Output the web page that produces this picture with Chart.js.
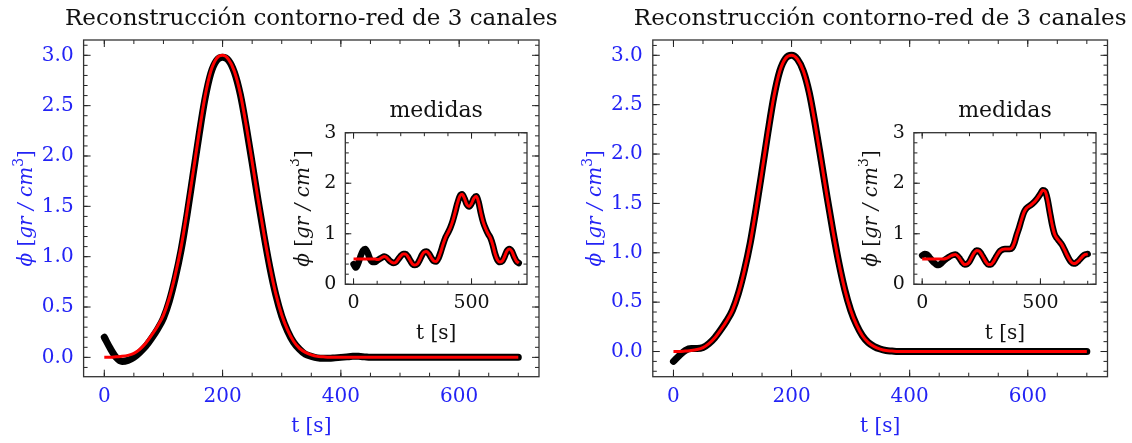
<!DOCTYPE html>
<html>
<head>
<meta charset="utf-8">
<script src="https://cdn.jsdelivr.net/npm/chart.js@4"></script>
<style>
  html, body { margin: 0; padding: 0; background: #fff; }
  #lienzo { position: relative; width: 1132px; height: 443px; }
  canvas { position: absolute; }
</style>
</head>
<body>
<div id="lienzo">
  <canvas id="principalA" width="560" height="443" style="left:0;top:0"></canvas>
  <canvas id="principalB" width="572" height="443" style="left:560px;top:0"></canvas>
  <canvas id="medidasA" width="250" height="255" style="left:290px;top:95px"></canvas>
  <canvas id="medidasB" width="250" height="255" style="left:858px;top:95px"></canvas>
</div>
<script>
// tiempo [s], comun a todas las curvas
const tiempo = [
  0, 10, 20, 30, 40, 50, 60, 70, 80, 90,
  100, 110, 120, 130, 140, 150, 160, 170, 180, 190,
  200, 210, 220, 230, 240, 250, 260, 270, 280, 290,
  300, 310, 320, 330, 340, 350, 360, 370, 380, 390,
  400, 410, 420, 430, 440, 450, 460, 470, 480, 490,
  500, 510, 520, 530, 540, 550, 560, 570, 580, 590,
  600, 610, 620, 630, 640, 650, 660, 670, 680, 690,
  700
];

// perfil real (rojo), igual en los dos paneles
const phiReal = [
  0, 0, 0.005, 0.01, 0.02, 0.04, 0.08, 0.14,
  0.22, 0.31, 0.42, 0.59, 0.82, 1.10, 1.45, 1.83,
  2.22, 2.58, 2.84, 2.97, 3.00, 2.96, 2.84, 2.62,
  2.30, 1.94, 1.57, 1.22, 0.90, 0.63, 0.42, 0.27,
  0.16, 0.09, 0.05, 0.025, 0.01, 0.005, 0, 0,
  0, 0, 0, 0, 0, 0, 0, 0, 0, 0,
  0, 0, 0, 0, 0, 0, 0, 0, 0, 0,
  0, 0, 0, 0, 0, 0, 0, 0, 0, 0,
  0
];

// reconstruccion (negro), panel izquierdo
const phiRecA = [
  0.20, 0.09, 0.00, -0.04, -0.03, 0.00, 0.05, 0.11,
  0.19, 0.28, 0.39, 0.56, 0.79, 1.07, 1.42, 1.81,
  2.20, 2.56, 2.82, 2.95, 2.98, 2.95, 2.83, 2.61,
  2.29, 1.93, 1.56, 1.21, 0.89, 0.62, 0.41, 0.26,
  0.15, 0.08, 0.03, 0.01, -0.005, -0.01, -0.01, -0.005,
  0, 0.005, 0.01, 0.01, 0.005, 0, 0, 0, 0, 0,
  0, 0, 0, 0, 0, 0, 0, 0, 0, 0,
  0, 0, 0, 0, 0, 0, 0, 0, 0, 0,
  0
];

// reconstruccion (negro), panel derecho
const phiRecB = [
  -0.10, -0.04, 0.01, 0.03, 0.03, 0.04, 0.08, 0.14,
  0.22, 0.31, 0.42, 0.59, 0.82, 1.10, 1.45, 1.83,
  2.22, 2.58, 2.84, 2.97, 3.00, 2.96, 2.84, 2.62,
  2.30, 1.94, 1.57, 1.22, 0.90, 0.63, 0.42, 0.27,
  0.16, 0.09, 0.05, 0.025, 0.01, 0.005, 0, 0,
  0, 0, 0, 0, 0, 0, 0, 0, 0, 0,
  0, 0, 0, 0, 0, 0, 0, 0, 0, 0,
  0, 0, 0, 0, 0, 0, 0, 0, 0, 0,
  0
];

// medidas, recuadro izquierdo
const medidaRealA = [
  0.50, 0.50, 0.50, 0.50, 0.50, 0.50, 0.50, 0.50, 0.50, 0.50,
  0.49, 0.50, 0.53, 0.55, 0.53, 0.48, 0.44, 0.42,
  0.44, 0.50, 0.56, 0.60, 0.60, 0.55, 0.47, 0.40,
  0.38, 0.40, 0.48, 0.58, 0.64, 0.65, 0.60, 0.52,
  0.46, 0.45, 0.52, 0.65, 0.80, 0.93, 1.02, 1.12,
  1.25, 1.42, 1.60, 1.74, 1.78, 1.70, 1.58, 1.54,
  1.60, 1.70, 1.74, 1.62, 1.40, 1.22, 1.10, 1.00,
  0.92, 0.78, 0.60, 0.48, 0.44, 0.46, 0.55, 0.66,
  0.70, 0.66, 0.55, 0.46, 0.42
];
const medidaRecA = [
  0.40, 0.33, 0.42, 0.56, 0.67, 0.70, 0.62, 0.50, 0.44, 0.44,
  0.47, 0.50, 0.53, 0.55, 0.53, 0.48, 0.44, 0.42,
  0.44, 0.50, 0.56, 0.60, 0.60, 0.55, 0.47, 0.40,
  0.38, 0.40, 0.48, 0.58, 0.64, 0.65, 0.60, 0.52,
  0.46, 0.45, 0.52, 0.65, 0.80, 0.93, 1.02, 1.12,
  1.25, 1.42, 1.60, 1.74, 1.78, 1.70, 1.58, 1.54,
  1.60, 1.70, 1.74, 1.62, 1.40, 1.22, 1.10, 1.00,
  0.92, 0.78, 0.60, 0.48, 0.44, 0.46, 0.55, 0.66,
  0.70, 0.66, 0.55, 0.46, 0.42
];

// medidas, recuadro derecho
const medidaRealB = [
  0.50, 0.50, 0.50, 0.50, 0.50, 0.50, 0.50, 0.50, 0.50, 0.50,
  0.51, 0.53, 0.56, 0.58, 0.59, 0.56, 0.50, 0.43,
  0.39, 0.40, 0.45, 0.54, 0.62, 0.67, 0.66, 0.60,
  0.52, 0.44, 0.39, 0.39, 0.44, 0.52, 0.60, 0.66,
  0.69, 0.70, 0.70, 0.70, 0.72, 0.82, 0.98, 1.12,
  1.28, 1.42, 1.50, 1.54, 1.57, 1.61, 1.66, 1.72,
  1.79, 1.86, 1.84, 1.68, 1.42, 1.17, 0.99, 0.91,
  0.85, 0.79, 0.70, 0.60, 0.51, 0.44, 0.41, 0.42,
  0.46, 0.51, 0.56, 0.59, 0.60
];
const medidaRecB = [
  0.57, 0.60, 0.59, 0.54, 0.48, 0.43, 0.39, 0.38, 0.41, 0.46,
  0.50, 0.53, 0.56, 0.58, 0.59, 0.56, 0.50, 0.43,
  0.39, 0.40, 0.45, 0.54, 0.62, 0.67, 0.66, 0.60,
  0.52, 0.44, 0.39, 0.39, 0.44, 0.52, 0.60, 0.66,
  0.69, 0.70, 0.70, 0.70, 0.72, 0.82, 0.98, 1.12,
  1.28, 1.42, 1.50, 1.54, 1.57, 1.61, 1.66, 1.72,
  1.79, 1.86, 1.84, 1.68, 1.42, 1.17, 0.99, 0.91,
  0.85, 0.79, 0.70, 0.60, 0.51, 0.44, 0.41, 0.42,
  0.46, 0.51, 0.56, 0.59, 0.60
];

// marcas de los ejes
const ticksPrincipalX = [0, 200, 400, 600];
const ticksPrincipalY = [0, 0.5, 1.0, 1.5, 2.0, 2.5, 3.0];
const ticksMedidasX = [0, 500];
const ticksMedidasY = [0, 1, 2, 3];

const titulo = 'Reconstrucción contorno-red de 3 canales';
const tituloMedidas = 'medidas';
const FUENTE = '"DejaVu Serif", serif';
const AZUL = '#2323f5';

const puntos = (ys) => tiempo.map((t, i) => ({x: t, y: ys[i]}));

function etiquetaPhi(ctx, cx, cy, tam, color) {
  const partes = [['ϕ', 'italic'], [' [', ''], ['gr / cm', 'italic'], ['3', 'sup'], [']', '']];
  const fuente = (p) => p === 'sup' ? `${Math.round(tam * 0.7)}px ${FUENTE}` : `${p} ${tam}px ${FUENTE}`;
  ctx.save();
  ctx.translate(cx, cy);
  ctx.rotate(-Math.PI / 2);
  let total = 0;
  partes.forEach(([t, p]) => { ctx.font = fuente(p); total += ctx.measureText(t).width; });
  let x = -total / 2;
  ctx.fillStyle = color;
  ctx.textAlign = 'left';
  ctx.textBaseline = 'middle';
  partes.forEach(([t, p]) => {
    ctx.font = fuente(p);
    ctx.fillText(t, x, p === 'sup' ? -tam * 0.38 : 0);
    x += ctx.measureText(t).width;
  });
  ctx.restore();
}

// marco, marcas hacia dentro en los cuatro lados y textos
const marco = {
  id: 'marco',
  afterDraw(chart, args, o) {
    const {ctx, chartArea: a, scales: {x, y}} = chart;
    ctx.save();
    ctx.strokeStyle = '#222';
    ctx.lineWidth = 1;
    ctx.beginPath();
    const marcasX = (v, largo) => {
      const px = x.getPixelForValue(v);
      ctx.moveTo(px, a.bottom); ctx.lineTo(px, a.bottom - largo);
      ctx.moveTo(px, a.top); ctx.lineTo(px, a.top + largo);
    };
    const marcasY = (v, largo) => {
      const py = y.getPixelForValue(v);
      ctx.moveTo(a.left, py); ctx.lineTo(a.left + largo, py);
      ctx.moveTo(a.right, py); ctx.lineTo(a.right - largo, py);
    };
    for (let k = Math.ceil(x.min / o.menorX); k * o.menorX <= x.max; k++) marcasX(k * o.menorX, o.corta);
    for (let k = Math.ceil(y.min / o.menorY - 1e-9); k * o.menorY <= y.max + 1e-9; k++) marcasY(k * o.menorY, o.corta);
    x.ticks.forEach(t => marcasX(t.value, o.larga));
    y.ticks.forEach(t => marcasY(t.value, o.larga));
    ctx.stroke();
    ctx.lineWidth = 1.3;
    ctx.strokeStyle = '#333';
    ctx.strokeRect(a.left, a.top, a.width, a.height);

    const cx = (a.left + a.right) / 2;
    ctx.textAlign = 'center';
    ctx.textBaseline = 'middle';
    ctx.font = `${o.tamTitulo}px ${FUENTE}`;
    ctx.fillStyle = '#111';
    ctx.fillText(o.titulo, cx, a.top + o.dyTitulo);
    ctx.fillStyle = o.color;
    ctx.font = `${o.tamEje}px ${FUENTE}`;
    ctx.fillText('t [s]', cx, a.bottom + o.dyEjeX);
    ctx.restore();
    etiquetaPhi(ctx, a.left + o.dxEjeY, (a.top + a.bottom) / 2, o.tamEje, o.color);
  }
};

function grafico(id, caja, rangos, ticksX, ticksY, negro, rojo, estilo) {
  return new Chart(document.getElementById(id), {
    type: 'line',
    data: {
      datasets: [
        {data: puntos(rojo), borderColor: '#ff0000', borderWidth: estilo.anchoRojo, order: 0},
        {data: puntos(negro), borderColor: '#000', borderWidth: estilo.anchoNegro, borderCapStyle: 'round', order: 1}
      ]
    },
    options: {
      responsive: false,
      animation: false,
      events: [],
      cubicInterpolationMode: 'monotone',
      elements: {point: {radius: 0}},
      layout: {padding: {left: 0, top: caja.t, right: caja.w - caja.r, bottom: 0}},
      plugins: {legend: {display: false}, tooltip: {enabled: false}, marco: estilo},
      scales: {
        x: {
          type: 'linear', min: rangos.x[0], max: rangos.x[1],
          grid: {display: false, drawTicks: false}, border: {display: false},
          afterBuildTicks: (s) => { s.ticks = ticksX.map(v => ({value: v})); },
          afterFit: (s) => { s.height = caja.h - caja.b; },
          ticks: {color: estilo.color, padding: estilo.padX, font: {family: FUENTE, size: estilo.tamTick}}
        },
        y: {
          type: 'linear', min: rangos.y[0], max: rangos.y[1],
          grid: {display: false, drawTicks: false}, border: {display: false},
          afterBuildTicks: (s) => { s.ticks = ticksY.map(v => ({value: v})); },
          afterFit: (s) => { s.width = caja.l; },
          ticks: {color: estilo.color, padding: estilo.padY, font: {family: FUENTE, size: estilo.tamTick},
                  callback: estilo.formato}
        }
      }
    },
    plugins: [marco]
  });
}

const estiloPrincipal = {
  titulo: titulo, tamTitulo: 23, dyTitulo: -21, tamEje: 20, dyEjeX: 50, dxEjeY: -57,
  color: AZUL, tamTick: 20, padX: 8, padY: 10, larga: 7, corta: 4, menorX: 50, menorY: 0.1,
  anchoNegro: 7, anchoRojo: 3, formato: (v) => v.toFixed(1)
};
const estiloMedidas = {
  titulo: tituloMedidas, tamTitulo: 22, dyTitulo: -21, tamEje: 20, dyEjeX: 49, dxEjeY: -42,
  color: '#111', tamTick: 19, padX: 7, padY: 9, larga: 6, corta: 3.5, menorX: 100, menorY: 0.2,
  anchoNegro: 6.5, anchoRojo: 3, formato: (v) => String(v)
};

grafico('principalA', {w: 560, h: 443, l: 83.6, t: 40, r: 539, b: 376.7},
  {x: [-35, 735], y: [-0.192, 3.152]}, ticksPrincipalX, ticksPrincipalY, phiRecA, phiReal, estiloPrincipal);
grafico('principalB', {w: 572, h: 443, l: 92.8, t: 40, r: 547.5, b: 376.7},
  {x: [-35, 735], y: [-0.255, 3.155]}, ticksPrincipalX, ticksPrincipalY, phiRecB, phiReal, estiloPrincipal);
grafico('medidasA', {w: 250, h: 255, l: 55.3, t: 37.7, r: 237, b: 189.3},
  {x: [-35, 735], y: [0, 3]}, ticksMedidasX, ticksMedidasY, medidaRecA, medidaRealA, estiloMedidas);
grafico('medidasB', {w: 250, h: 255, l: 55.9, t: 37.7, r: 238, b: 189.3},
  {x: [-35, 735], y: [0, 3]}, ticksMedidasX, ticksMedidasY, medidaRecB, medidaRealB, estiloMedidas);
</script>
</body>
</html>
